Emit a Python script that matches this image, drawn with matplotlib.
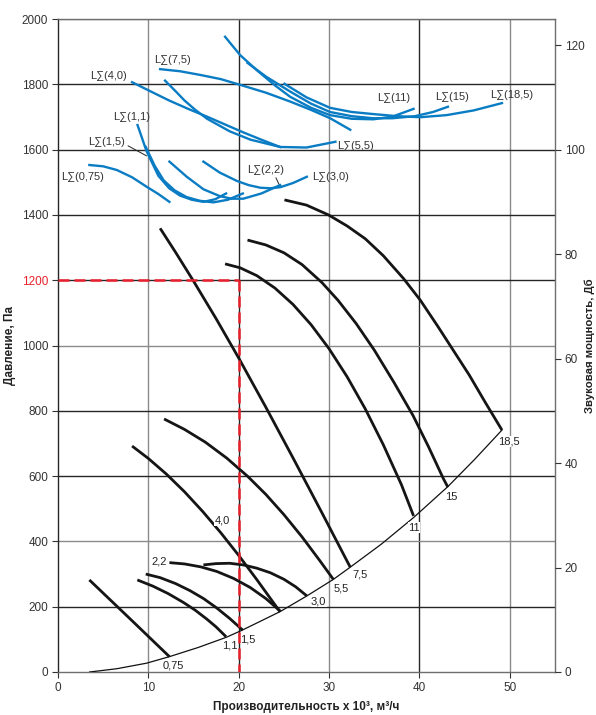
import matplotlib
matplotlib.use("Agg")
import matplotlib.pyplot as plt

plt.rcParams['font.family'] = ['Liberation Sans', 'DejaVu Sans']

# ---------------- data ----------------
x_ticks = [0, 10, 20, 30, 40, 50]
y_ticks = [0, 200, 400, 600, 800, 1000, 1200, 1400, 1600, 1800, 2000]
db_ticks = [0, 20, 40, 60, 80, 100, 120]

# fan curves (flow x10^3 m3/h, pressure Pa)
fan_names = ["0,75", "1,1", "1,5", "2,2", "3,0", "4,0", "5,5", "7,5", "11", "15", "18,5"]
fan_x = [
    [3.47, 7.97, 12.33],
    [8.78, 10.5, 12.2, 13.88, 15.2, 16.47, 17.5, 18.6],
    [9.71, 11.3, 13.0, 14.62, 16.1, 17.57, 19.0, 20.45],
    [12.33, 14.0, 15.8, 17.57, 19.4, 21.26, 23.0, 24.58],
    [16.09, 17.5, 19.0, 20.5, 22.0, 23.5, 25.0, 26.3, 27.54],
    [8.2, 10.0, 12.0, 14.0, 16.0, 18.0, 20.0, 22.0, 24.58],
    [11.74, 14.0, 16.3, 18.68, 21.0, 23.0, 25.0, 27.0, 29.0, 30.49],
    [11.3, 13.0, 14.98, 17.5, 19.97, 23.0, 26.06, 29.2, 32.34],
    [18.49, 20.15, 22.0, 24.0, 26.0, 28.0, 30.0, 32.0, 34.0, 36.0, 38.0, 39.35],
    [20.97, 23.0, 25.0, 27.0, 29.2, 31.0, 33.0, 35.0, 37.2, 39.3, 41.0, 42.65, 43.15],
    [25.06, 27.5, 29.93, 32.0, 34.0, 36.0, 38.24, 40.09, 42.0, 43.4, 45.5, 47.3, 49.13],
]
fan_y = [
    [282, 163, 47],
    [282, 263, 240, 213, 189, 162, 138, 108],
    [300, 289, 271, 249, 225, 196, 164, 128],
    [335, 331, 322, 308, 287, 259, 225, 187],
    [328, 332, 333, 328, 318, 304, 284, 261, 233],
    [692, 654, 606, 552, 492, 427, 357, 283, 184],
    [775, 743, 704, 655, 599, 544, 482, 414, 340, 283],
    [1359, 1286, 1198, 1082, 963, 811, 653, 488, 321],
    [1250, 1238, 1214, 1176, 1126, 1064, 990, 904, 806, 696, 574, 478],
    [1323, 1308, 1284, 1248, 1193, 1138, 1067, 986, 886, 785, 690, 592, 566],
    [1446, 1430, 1400, 1366, 1327, 1275, 1205, 1139, 1060, 1000, 910, 825, 741],
]
fan_lbl_x = [12.8, 19.0, 21.0, 11.24, 28.85, 18.2, 31.3, 33.4, 39.4, 43.5, 49.9]
fan_lbl_y = [19, 80, 101, 337, 215, 465, 256, 299, 442, 537, 705]

# system (operating) line
sys_x = [3.5, 6.5, 9.8, 12.33, 15.5, 18.6, 20.45, 24.58, 27.54, 30.49, 32.34, 35.8,
         39.35, 43.15, 46.1, 49.13]
sys_y = [0, 10, 27, 47, 75, 106, 129, 185, 233, 284, 321, 392, 473, 568, 651, 741]

# sound power curves (flow, dB)
snd_names = ["L∑(0,75)", "L∑(1,1)", "L∑(1,5)", "L∑(2,2)", "L∑(3,0)", "L∑(4,0)",
             "L∑(5,5)", "L∑(7,5)", "L∑(11)", "L∑(15)", "L∑(18,5)"]
snd_x = [
    [3.47, 5.0, 6.5, 8.2, 9.8, 11.1, 12.33],
    [8.8, 9.8, 11.1, 12.3, 13.5, 14.8, 16.1, 17.4, 18.6],
    [9.71, 10.7, 11.7, 12.9, 14.25, 15.7, 17.2, 18.8, 20.45],
    [12.33, 14.25, 16.1, 17.9, 19.2, 20.5, 22.5, 24.58],
    [16.09, 17.9, 19.8, 21.1, 22.4, 23.5, 24.6, 26.0, 27.54],
    [8.2, 10.3, 12.3, 14.4, 16.5, 18.5, 20.5, 22.5, 24.58],
    [11.85, 13.0, 14.0, 15.2, 16.5, 19.0, 21.3, 24.6, 27.5, 30.7],
    [11.3, 13.5, 15.72, 18.0, 20.15, 23.0, 25.69, 28.0, 30.12, 32.34],
    [18.49, 20.15, 22.0, 24.0, 25.7, 28.0, 30.1, 32.5, 34.9, 37.0, 39.35],
    [20.97, 23.0, 25.7, 28.0, 30.1, 32.5, 34.9, 37.0, 39.5, 41.5, 43.15],
    [25.06, 27.5, 30.1, 32.5, 34.9, 37.5, 40.1, 43.0, 46.0, 49.13],
]
snd_db = [
    [97.05, 96.8, 96.1, 94.7, 92.9, 91.5, 90.0],
    [104.7, 99.7, 95.0, 92.6, 91.2, 90.4, 90.0, 90.5, 91.6],
    [100.5, 96.9, 94.1, 92.2, 90.9, 90.2, 89.9, 90.4, 91.6],
    [97.7, 94.8, 92.4, 91.1, 90.6, 90.6, 91.6, 93.2],
    [97.7, 95.6, 94.0, 93.2, 92.7, 92.6, 92.8, 93.6, 94.8],
    [112.9, 111.1, 109.4, 107.8, 106.3, 104.8, 103.3, 101.9, 100.5],
    [113.2, 111.2, 109.4, 107.6, 105.9, 103.5, 101.9, 100.5, 100.4, 101.5],
    [115.4, 115.0, 114.3, 113.5, 112.4, 110.9, 109.2, 107.6, 106.0, 103.8],
    [121.6, 118.1, 115.2, 112.3, 110.1, 108.0, 106.6, 105.9, 105.8, 106.3, 107.8],
    [116.6, 114.0, 111.1, 108.8, 107.2, 106.4, 106.0, 106.0, 106.4, 107.2, 108.2],
    [112.6, 110.0, 108.0, 107.2, 106.8, 106.4, 106.2, 106.6, 107.5, 108.9],
]
snd_lbl_x = [0.4, 6.05, 3.36, 20.9, 28.1, 3.54, 30.86, 10.63, 35.36, 41.75, 47.84]
snd_lbl_y = [94.8, 106.2, 101.4, 96.1, 94.8, 114.1, 100.6, 117.2, 109.8, 110.1, 110.5]

# selected operating point
sel_flow = 20
sel_press = 1200

# ---------------- figure ----------------
fig = plt.figure(figsize=(5.96, 7.15), dpi=100)
ax = fig.add_axes([58 / 596, 43 / 715, 497 / 596, 653 / 715])
ax.set_xlim(0, 55)
ax.set_ylim(0, 2000)

dark = '#262626'
gray = '#8a8a8a'
for i, v in enumerate(x_ticks[1:]):
    ax.axvline(v, color=gray if i % 2 == 0 else dark, lw=1.0, zorder=1)
for v in y_ticks[1:]:
    ax.axhline(v, color=gray if v in (400, 1000, 2000) else dark, lw=1.0, zorder=1)

ax.set_xticks(x_ticks)
ax.set_yticks(y_ticks)
ax.tick_params(axis='both', direction='out', length=4, width=0.8, labelsize=8.5,
               colors='#333333', pad=3)
for lbl in ax.get_yticklabels():
    if lbl.get_text() == '1200':
        lbl.set_color('#e8202a')
ax.spines['left'].set_color(dark)
for s in ['bottom', 'top', 'right']:
    ax.spines[s].set_color('#6e6e6e')
for s in ax.spines.values():
    s.set_linewidth(1.0)

ax.set_ylabel('Давление, Па', fontsize=8.5, fontweight='bold', color='#222222', labelpad=4)
ax.set_xlabel('Производительность x 10³, м³/ч', fontsize=8.5, fontweight='bold',
              color='#222222', labelpad=5)

# system line
ax.plot(sys_x, sys_y, color='#111111', lw=0.9, zorder=3)

# fan curves
for xs, ys in zip(fan_x, fan_y):
    ax.plot(xs, ys, color='#151515', lw=2.0, zorder=4, solid_capstyle='butt',
            solid_joinstyle='round')
for name, lx, ly in zip(fan_names, fan_lbl_x, fan_lbl_y):
    ax.text(lx, ly, name, fontsize=8, color='#222222', ha='center', va='center', zorder=6,
            bbox=dict(facecolor='white', edgecolor='none', pad=0.3))

# selection dashed lines
ax.plot([0, sel_flow], [sel_press, sel_press], color='#e8202a', lw=1.8,
        ls=(0, (4.4, 2.0)), zorder=7)
ax.plot([sel_flow, sel_flow], [sel_press, 0], color='#e8202a', lw=1.8,
        ls=(0, (4.4, 2.0)), zorder=7)

# sound power axis
ax2 = ax.twinx()
ax2.set_ylim(0, 125)
ax2.set_yticks(db_ticks)
ax2.tick_params(axis='y', direction='out', length=4, width=0.8, labelsize=8.5,
                colors='#333333', pad=3)
for s in ax2.spines.values():
    s.set_visible(False)
ax2.set_ylabel('Звуковая мощность, Дб', fontsize=8.2, fontweight='bold',
               color='#222222', labelpad=0)

blue = '#0a7cc4'
for xs, ds in zip(snd_x, snd_db):
    ax2.plot(xs, ds, color=blue, lw=1.7, zorder=5, solid_joinstyle='round')

for name, lx, ly in zip(snd_names, snd_lbl_x, snd_lbl_y):
    if name == "L∑(1,5)":
        ax2.annotate(name, xy=(9.8, 98.8), xytext=(lx, ly), fontsize=8, color='#333333',
                     ha='left', va='center',
                     arrowprops=dict(arrowstyle='-', color='#222222', lw=0.7,
                                     shrinkA=0, shrinkB=0, relpos=(1.0, 0.3)))
    elif name == "L∑(2,2)":
        ax2.annotate(name, xy=(24.58, 92.9), xytext=(lx, ly), fontsize=8, color='#333333',
                     ha='left', va='center',
                     arrowprops=dict(arrowstyle='-', color='#222222', lw=0.7,
                                     shrinkA=0, shrinkB=0, relpos=(0.75, 0.0)))
    else:
        ax2.text(lx, ly, name, fontsize=8, color='#333333', ha='left', va='center')

fig.savefig('out.png', dpi=100)
